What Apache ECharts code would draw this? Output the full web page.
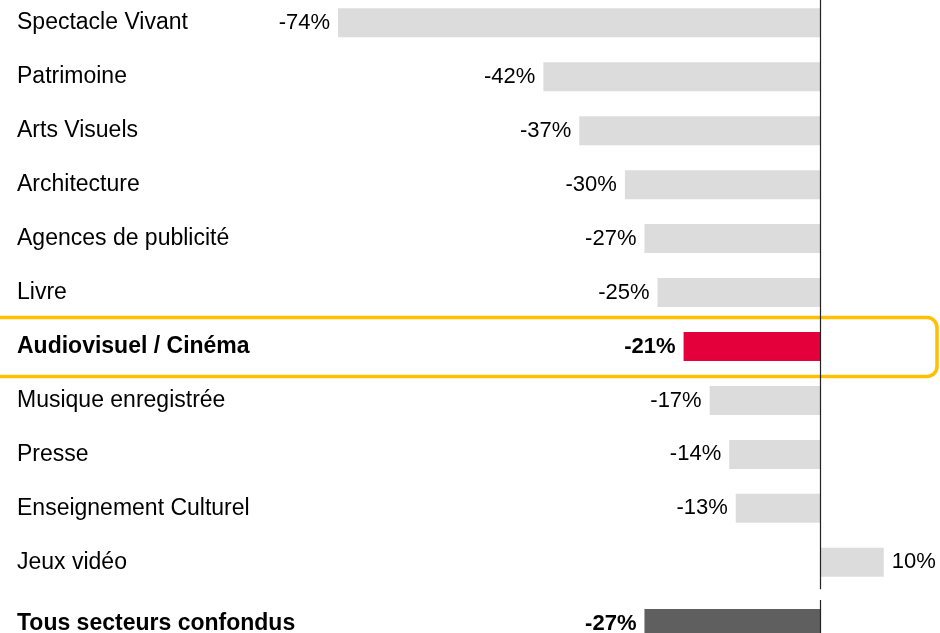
<!DOCTYPE html>
<html>
<head>
<meta charset="utf-8">
<script src="https://cdn.jsdelivr.net/npm/echarts@6/dist/echarts.min.js"></script>
<style>
html,body{margin:0;padding:0;background:#fff;}
#c{width:940px;height:633px;}
</style>
</head>
<body>
<div id="c"></div>
<script>
const categories = ['Spectacle Vivant','Patrimoine','Arts Visuels','Architecture','Agences de publicité','Livre','Audiovisuel / Cinéma','Musique enregistrée','Presse','Enseignement Culturel','Jeux vidéo'];
const values = [-74,-42.5,-37,-30,-27,-25,-21,-17,-14,-13,9.7];
const highlightCategory = 'Audiovisuel / Cinéma';
const totalCategories = ['Tous secteurs confondus'];
const totalValues = [-27];

const FONT = '"Liberation Sans", Arial, sans-serif';
const FS_CAT = 23;
const FS_VAL = 22;
const GRAY = '#dcdcdc', RED = '#e4003a', DARK = '#5f5f5f';

const xMin = -80, xMax = 15;
const gridLeft = 298.9, gridRight = 21.7;
const labelX = 17;

function labelFor(v, bold){
  return {
    show: true,
    position: v < 0 ? 'left' : 'right',
    distance: 8,
    formatter: Math.round(v) + '%',
    fontFamily: FONT, fontSize: FS_VAL, color: '#000',
    fontWeight: bold ? 'bold' : 'normal'
  };
}

const mainData = values.map((v, i) => {
  const hl = categories[i] === highlightCategory;
  return { value: v, itemStyle: { color: hl ? RED : GRAY }, label: labelFor(v, hl) };
});
const totalData = totalValues.map(v => ({ value: v, itemStyle: { color: DARK }, label: labelFor(v, true) }));

function yAxisCfg(gridIndex, cats, boldSet){
  return {
    type: 'category', gridIndex, data: cats, inverse: true,
    axisLine: { show: false }, axisTick: { show: false },
    axisLabel: {
      align: 'left', margin: gridLeft - labelX,
      fontFamily: FONT, fontSize: FS_CAT, color: '#000',
      formatter: (v) => boldSet(v) ? '{b|' + v + '}' : v,
      rich: { b: { fontFamily: FONT, fontSize: FS_CAT, fontWeight: 'bold', color: '#000' } }
    }
  };
}
function xAxisCfg(gridIndex){
  return { type: 'value', gridIndex, min: xMin, max: xMax,
    axisLine: { show: false }, axisTick: { show: false }, axisLabel: { show: false }, splitLine: { show: false } };
}
const zeroLine = { silent: true, symbol: 'none', label: { show: false },
  lineStyle: { color: '#222', width: 1.2, type: 'solid' }, data: [{ xAxis: 0 }] };

const chart = echarts.init(document.getElementById('c'));
chart.setOption({
  animation: false,
  grid: [
    { left: gridLeft, right: gridRight, top: -4.2, height: 593.5, outerBoundsMode: 'none', containLabel: false },
    { left: gridLeft, right: gridRight, top: 600, height: 47, outerBoundsMode: 'none', containLabel: false }
  ],
  xAxis: [xAxisCfg(0), xAxisCfg(1)],
  yAxis: [
    yAxisCfg(0, categories, v => v === highlightCategory),
    yAxisCfg(1, totalCategories, v => true)
  ],
  series: [
    { type: 'bar', xAxisIndex: 0, yAxisIndex: 0, barWidth: 29, data: mainData, markLine: zeroLine },
    { type: 'bar', xAxisIndex: 1, yAxisIndex: 1, barWidth: 29, data: totalData, markLine: zeroLine }
  ]
});

const hy = chart.convertToPixel({ yAxisIndex: 0 }, highlightCategory);
chart.setOption({
  graphic: [{
    type: 'rect', silent: true,
    shape: { x: -20, y: hy - 29, width: 957, height: 59, r: 10 },
    style: { fill: 'none', stroke: '#ffc000', lineWidth: 3.5 }
  }]
});
</script>
</body>
</html>
